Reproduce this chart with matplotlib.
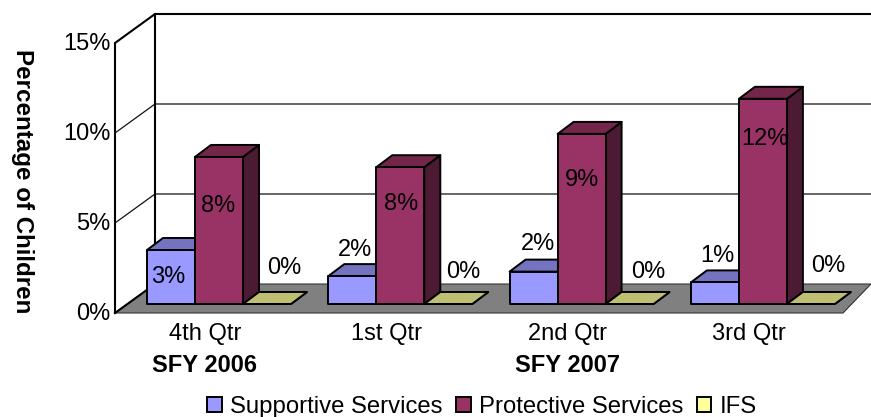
#!/usr/bin/env python3
"""Pseudo-3D clustered column chart: percentage of children by service and quarter."""

import matplotlib
matplotlib.use("Agg")
import matplotlib.pyplot as plt
import numpy as np
from matplotlib.patches import Patch
from matplotlib.ticker import FuncFormatter
from matplotlib.transforms import ScaledTranslation

QUARTERS = ["4th Qtr", "1st Qtr", "2nd Qtr", "3rd Qtr"]
YEAR_LABELS = ["SFY 2006", "SFY 2007"]
YEAR_QUARTER_INDEX = [0, 2]
SERIES_NAMES = ["Supportive Services", "Protective Services", "IFS"]

SUPPORTIVE = [3.0, 1.55, 1.8, 1.2]
PROTECTIVE = [8.17, 7.6, 9.45, 11.4]
IFS = [0.0, 0.0, 0.0, 0.0]
SUPPORTIVE_LABELS = ["3%", "2%", "2%", "1%"]
PROTECTIVE_LABELS = ["8%", "8%", "9%", "12%"]
IFS_LABELS = ["0%", "0%", "0%", "0%"]
Y_TICKS = [0, 5, 10, 15]

# front, top, side shades of each series
SHADES = [
    ("#9999FF", "#7373BF", "#4D4D80"),
    ("#993366", "#732649", "#4D1A33"),
    ("#FFFF99", "#BFBF73", "#808050"),
]

# pixel scale of the figure, used to keep the fake depth in data units
PX_X = 1 / 181.3
PX_Y = 1 / 18
WALL_DX, WALL_DY = 40 * PX_X, 29 * PX_Y
BAR_DX, BAR_DY = 16 * PX_X, 12 * PX_Y
BAR_WIDTH = 48 * PX_X
BAR_LIFT = 9 * PX_Y
FLOOR_INSET = 32 * PX_X

# label offsets from the top centre of each bar, in pixels
LABEL_OFFSETS = [
    [(-3, -27), (3, 26), (4, 28), (2, 26)],
    [(-1, -49), (1, -37), (0, -46), (2, -40)],
    [(17, 36), (15, 32), (19, 32), (17, 38)],
]

FONT = 17
plt.rcParams["font.family"] = ["Liberation Sans", "DejaVu Sans"]

W, H = 871, 417
fig = plt.figure(figsize=(W / 100, H / 100), dpi=100)
ax = fig.add_axes([115 / W, (H - 313) / H, 728 / W, 270 / H])
x_left = -FLOOR_INSET
x_right = x_left + 728 * PX_X
ax.set_xlim(x_left, x_right)
ax.set_ylim(0, 15)
for spine in ax.spines.values():
    spine.set_visible(False)
ax.patch.set_visible(False)

# floor
ax.fill(
    [x_left, x_left + WALL_DX, x_right + WALL_DX * 0.7, x_right],
    [0, WALL_DY, WALL_DY, 0],
    facecolor="#808080", edgecolor="#333333", linewidth=0.8, clip_on=False, zorder=1,
)

# walls and gridlines
wall_right = x_right + WALL_DX * 0.7
for tick in Y_TICKS[1:-1]:
    ax.plot([x_left, x_left + WALL_DX, wall_right], [tick, tick + WALL_DY, tick + WALL_DY],
            color="#111111", linewidth=0.9, clip_on=False, zorder=0.5)
ax.plot([x_left, x_left, x_left + WALL_DX, wall_right], [0, 15, 15 + WALL_DY, 15 + WALL_DY],
        color="black", linewidth=1.5, clip_on=False, zorder=2, solid_joinstyle="miter")
ax.plot([x_left + WALL_DX, x_left + WALL_DX], [WALL_DY, 15 + WALL_DY],
        color="black", linewidth=1.5, clip_on=False, zorder=0.6)
ax.plot([x_left, x_left + WALL_DX], [0, WALL_DY], color="black", linewidth=1.5, clip_on=False, zorder=2)

# bars
group_pos = np.arange(len(QUARTERS))
all_values = [SUPPORTIVE, PROTECTIVE, IFS]
all_labels = [SUPPORTIVE_LABELS, PROTECTIVE_LABELS, IFS_LABELS]
for g in group_pos:
    for s, values in enumerate(all_values):
        front, top_c, side_c = SHADES[s]
        left = g + s * BAR_WIDTH
        right = left + BAR_WIDTH
        top = values[g] + BAR_LIFT
        z = 3 + g + s * 0.1
        style = dict(edgecolor="black", linewidth=1.4, joinstyle="round", clip_on=False, zorder=z)
        ax.fill([right, right + BAR_DX, right + BAR_DX, right],
                [BAR_LIFT, BAR_LIFT + BAR_DY, top + BAR_DY, top], facecolor=side_c, **style)
        ax.fill([left, left + BAR_DX, right + BAR_DX, right],
                [top, top + BAR_DY, top + BAR_DY, top], facecolor=top_c, **style)
        ax.bar(left, values[g], BAR_WIDTH, bottom=BAR_LIFT, align="edge", color=front, **style)

# data labels go above all bars
for s, values in enumerate(all_values):
    for g in group_pos:
        center = g + (s + 0.5) * BAR_WIDTH
        ax.annotate(all_labels[s][g], xy=(center, values[g] + BAR_LIFT),
                    xytext=LABEL_OFFSETS[s][g], textcoords="offset pixels",
                    ha="center", va="center", fontsize=FONT, color="black", zorder=20,
                    annotation_clip=False)

# axis labels
ax.set_yticks(Y_TICKS)
ax.yaxis.set_major_formatter(FuncFormatter(lambda v, _: f"{v:.0f}%"))
ax.tick_params(axis="y", length=0, pad=3.5, labelsize=FONT)
group_centers = group_pos + 1.5 * BAR_WIDTH - 14 * PX_X
ax.set_xticks(group_centers)
ax.set_xticklabels(QUARTERS)
ax.tick_params(axis="x", length=0, pad=7, labelsize=FONT)
for idx, label in zip(YEAR_QUARTER_INDEX, YEAR_LABELS):
    ax.annotate(label, xy=(group_centers[idx], 0), xytext=(0, -53), textcoords="offset pixels",
                ha="center", va="center", fontsize=FONT, fontweight="bold", annotation_clip=False)

# nudge the y tick labels up a pixel
nudge = ScaledTranslation(0, 1.5 / 100, fig.dpi_scale_trans)
for tick_label in ax.get_yticklabels():
    tick_label.set_transform(tick_label.get_transform() + nudge)

fig.text(22 / W, 1 - 181 / H, "Percentage of Children", rotation=-90, ha="center", va="center",
         fontsize=17.4, fontweight="bold")

handles = [Patch(facecolor=SHADES[i][0], edgecolor="black", linewidth=1.4) for i in range(3)]
fig.legend(handles, SERIES_NAMES, loc="center", bbox_to_anchor=(482 / W, 1 - 407 / H), ncol=3,
           frameon=False, fontsize=17.2, handlelength=0.62, handleheight=0.62, handletextpad=0.35,
           columnspacing=0.55, borderpad=0, borderaxespad=0)

fig.savefig("out.png", dpi=100)
